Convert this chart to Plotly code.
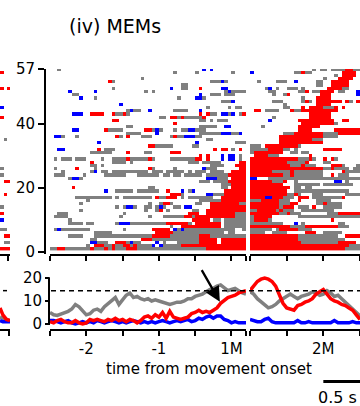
import numpy as np
import plotly.graph_objects as go

W, H = 360, 406
FONT = "DejaVu Sans"

# ---------------- raster data (rows 57 -> 1), bins of 50 ms ----------------
BIN = 0.05
SEG1_RANGE = (-2.5, 0.2)   # s, relative to 1st movement onset (1M)
SEG2_RANGE = (-1.0, 0.5)   # s, relative to 2nd movement onset (2M)
ROWS = list(range(57, 0, -1))

SEG1_ROWS = [
    "g2 b42 b44",
    "g34 g40 g50",
    "",
    "g25",
    "r16 g17 g44-46 b47 g48",
    "g36-37",
    "g17 b33 g36-37 r41 b47 b48",
    "b5 b12 g26 g28 g48-53 b49",
    "g6-7 b41 g44-46 g48-50",
    "b8 g12 g35 b40-41 g42",
    "g47-50 b50",
    "b19",
    "g43 g49 g51-52",
    "g21 b22 g23-24 b27 g34-36 g37 b41",
    "b6 b7-8 r11 r12-13 r14 r17 g18-19 r20 g21 r41 r43 g44-45 b47-48 g49 b50 g52 r53",
    "g30-31 g33 r33-34 g35 r36 g37-41 r42",
    "r17-18 g41-42 g44 g46-48",
    "r34",
    "g21-22 g41-45 b48-49",
    "b6 b7 r15 g16-19 r26-27 g28 b29 g30 g34 g36 g37 b38-39 g40-42",
    "g21-24 b29 g41-46 b47 b48-49 g50-51 b52",
    "g1-3 b1 b2 g7 r18 g19 r21 g25 g26-27 g33 r34 g35-36 b37 b38-39 g40-41",
    "g43-44",
    "b13 b40 g51-53",
    "r27-28 g29-33 g39-40",
    "b2-3 r13 g15-16 g17 r45 r47 r48 g50 r52",
    "g11-16 r21 g26-27 r33-35",
    "r41 r43 b47 b49 b50 g52",
    "g1 g3-5 g7-9 g14 g17-20 r21 g22-26 r27 g28 g33-39 r40-41 r43 b47 b49-50 g52",
    "r11 g17-20 g22 g38-40 g42-46 r52-53",
    "g11-12 g14 g44-47 r51-53",
    "g1 r7 g12 r27 g28 g34 b42 g43-45 r52-53",
    "g3 g11-12 b12 g14-15 g17-26 g28-30 g32-36 g38 g40-42 g44-47 r50-53",
    "g1-3 g9 g15-20 g24-29 g31-32 g34-35 g37-41 g43-48 r49-53",
    "g5 b6-7 g8 b43-45 g46-48 r50-53",
    "g41-43 g45-48 r49-53",
    "g47-49 b50 r50-53",
    "r6 g27-28 g47-48 r50-53",
    "b15 b18 g18-21 g22 g24-26 g27-28 g29 g32 r32 b36 g38 b39 r48-53",
    "r33-34 r35 g36 b43-44 g45-47 r48-53",
    "g7-13 g14-16 g18 g20 g21-24 g25-27 g29 r29 g30-31 r32-34 g36 g38-44 r47-53",
    "g10 g41-46 r47-53",
    "g8 g27 g30 r31-32 g33 g40-41 r44-51 g52-53",
    "g18 g20-21 b21-22 g23 g26-27 g29-30 b30 g31 g34-35 b37-38 r44-53",
    "g8 g26 g29 r30 r32 g32 g39-40 r43-53",
    "g2-4 g20 r38-40 r43-48 r49-50 g51-53",
    "g1-4 g19 g27 g31-36 r37-39 g39 r40-47 r48-50 g51-53",
    "g5 r39-43 g45-46 g48-53",
    "g5-8 g10-11 g18 b19-21 g22-26 g27-29 g30-31 r32-37 g38 r40-46 g48-53",
    "g33 r36-46 g48-53",
    "g1 b2 g3-8 g9-10 g20 r28-32 b34 g35 b36 g37-47 g48-50 g53",
    "g12-16 r29-33 g34-40 g41-47 g49-50",
    "g5-8 g12-14 g15-16 g17-27 r28-32 g33-40 r41-43 g44-53",
    "g11-12 r25-27 g28-40 r41-45 r47-53",
    "b11-12 g13-15 r18-20 g21-22 b22 g23-24 r29 b29 g31 g35-40 r41-45 r47-53",
    "g10 r12-15 g15-16 r17 g18-19 r20-22 g22-23 r23 g24-28 b28 b30-31 g31-35 r36-38 r39-53",
    "g0-1 r2-4 g4-10 r11-12 g12-14 r15 g16 r17-18 g18-20 r21-23 g24-42 r43-53",
]

SEG2_ROWS = [
    "g17 g19 g20 g22-25 r26-27 g28-29",
    "b0 g12-13 r14 g15-16 r25-28",
    "g23 r25-28",
    "g20 r24-27",
    "g2 g7-9 b12 g18-19 r22-26",
    "g18-19 r22-26",
    "g4 b5 g7 g10-12 g14 r21-24 g25-26",
    "g5-6 g13-15 r15 g17-18 r19-22 g24-25 b29",
    "g6 g9 r10 r19-21 b29",
    "g14 r18-21",
    "g6-7 g8 g14-16 r15 r18-24 r26 g27 r29",
    "g9 r18-21",
    "g9-10 r14 r16-19 g20-22 r23 r25",
    "r1 r2 g4-7 r11 g12-13 r14-15 r16-22 r23",
    "r16-21",
    "g6 r16-21",
    "b5 r13 r14-22 r25 r26",
    "r14-22 g23",
    "g3 r13-18",
    "r13-16 r23-29",
    "g9-11 r12-19 g20-23 r24-29",
    "r8-19 g20-23",
    "r8-16 g17-19",
    "r8-19",
    "g0-2 r4-12 g13",
    "g0-4 r5-8 g9-10 g12 r20-24",
    "g0 r1-8 g11-12 g14-15",
    "r1-4 g5-7 r16",
    "r0-12 g13-15 r16 g17 r20 r22 g23",
    "r0-9 g10-14 r15 g20-21",
    "r0-10 g11-13 r14 g15-17 r22-24 g25 g29",
    "r0-19 g20-21 r22 g23-26 g28-29",
    "r0-5 g6-10 r11 g12-19 r25 g26-29",
    "r0-8 g9-10 r11 g12-19 r22 g24-26",
    "b0-1 g5-19 g20-29",
    "r0-5 g6-8 r9 g12 b23-24 g26",
    "r0-8 g12-18 g20-27",
    "r0-10 g12-13 g15-16",
    "r0-9 g12-17 g18-22 g23-26",
    "r0-9 g10-13 r12 g17-19 g26-29",
    "r0-8 b4-5 g9-11 r13-15 g17-24 r25",
    "g0-2 r3-7 g8-10 r13 g18-21",
    "r0-7 g8-10 r11-12 g18-22 r20 g23-24",
    "r0-7 g8 r9-11 g13-15 r17 g20-24",
    "g0-1 r2-6 g7-11 r8 g14-18 g19-22",
    "r0-7 g8-13 r10 g21-23 r24-29",
    "g0-2 r1-5 g13-29",
    "g0-5 r1-4 r22",
    "g0-8 b12 g14 g24-25",
    "r0-6 r7-11 g11-14 r15-18 r19-24 g24-26",
    "g0-5 g7-10 r8-12 g13-16",
    "g0-3 g6-9 r15-17 g20-24",
    "r0-13 g13-23 r26-29",
    "r0-12 g13-25",
    "r0-13 g14-16 g17-24 r24-28",
    "r0-26 g27-29",
    "r0-25 g26-29",
]

# neighbouring panel (iii), only its right edge is visible
LEFT_ROWS = {56: "r0", 51: "r0 g2-3 r2", 45: "b0", 42: "r0", 35: "g1", 26: "g0", 24: "g0",
             22: "r1-2", 18: "r1", 14: "g0 b3", 12: "r0", 10: "b0", 7: "g0-1", 5: "r1-2",
             3: "g1-2", 1: "r0-3"}

# ---------------- population curves ----------------
T1 = [round(-2.5 + 0.05 * i, 2) for i in range(55)]
T2 = [round(-1.0 + 0.05 * i, 2) for i in range(31)]

GRAY1 = [5, 4, 3.7, 4.2, 5, 5.5, 6.5, 8.5, 7.5, 6, 4, 4.5, 6, 6.5, 5.5, 7.5, 9, 10.5, 11.5, 8.5,
         10.5, 12.5, 13.5, 11.5, 12, 11, 10.5, 11, 10, 10.5, 10, 9.5, 9, 8.5, 9, 9.5, 9.5, 10, 11,
         11, 12, 12.5, 13, 14, 15, 15.5, 16.5, 17, 15.5, 14.5, 15, 15.5, 14.5, 13.5, 13]
RED1 = [1, 0.5, 1.5, 2, 1, 0.5, 0.5, 1.5, 0.5, 0, 0.5, 2, 1.5, 2, 1.5, 1, 2, 1.5, 2.5, 1.5,
        2, 1, 2, 1.5, 0.5, 1.5, 3, 3.5, 2.5, 4, 3, 5, 2.5, 5.5, 3, 2.5, 2, 2.5, 3, 4.5,
        5, 6, 5, 5.5, 5, 6, 7, 9, 10.5, 11.5, 12, 12.5, 13.5, 14, 14.5]
BLUE1 = [1.5, 1.5, 1, 0.5, 1, 1.5, 0.5, 0, 0.5, 1, 0.5, 1, 0.5, 1.5, 1, 0.5, 1, 1.5, 1, 0.5,
         1, 0.5, 1, 1.5, 1, 0.5, 1, 0.5, 1, 0.5, 1, 1.5, 1, 0.5, 1, 1.5, 1, 1.5, 2, 1,
         1.5, 2.5, 2, 3, 3.5, 2.5, 3.5, 3.5, 2, 1.5, 0.5, 1, 0.5, 0.5, 0.5]

GRAY2 = [14, 13, 11, 9.5, 8, 7, 7.5, 8.5, 10, 11, 12, 13, 12, 11, 12, 12.5, 13, 14, 13.5, 12.5,
         13, 14.5, 13.5, 12, 12.5, 11, 9.5, 8, 6.5, 5, 3.5]
RED2 = [14.5, 16.5, 18.5, 19.5, 20, 19.5, 18.5, 16.5, 12.5, 9, 7, 6.5, 6, 8, 8.5, 9.5, 10, 11,
        13, 14, 15, 13, 11, 10, 9.5, 8.5, 8, 7, 6, 4, 2]
BLUE2 = [2, 1.5, 1, 1, 2, 2.5, 1, 0.5, 0.5, 0.5, 0.5, 0.5, 0.5, 1.5, 0.5, 0.5, 1, 0.5, 0.5, 0.5,
         0.5, 0.5, 0.5, 1.5, 0.5, 0.5, 0.5, 0.5, 1, 0.5, 0.5]

TL = [-0.14, -0.1, -0.05, 0.0]
LEFT_GRAY = [3, 2.5, 2, 1.5]
LEFT_RED = [7, 4, 2, 1.5]
LEFT_BLUE = [1.5, 1, 1, 1]

THRESHOLD = 14.5
SCALE_BAR = 0.5

CODE = {"g": 1, "r": 2, "b": 3}


def parse(spec, nbins):
    out = np.full(nbins, np.nan)
    for tok in spec.split():
        c = CODE[tok[0]]
        rng = tok[1:]
        if "-" in rng:
            a, b = map(int, rng.split("-"))
        else:
            a = b = int(rng)
        for k in range(max(a, 0), min(b, nbins - 1) + 1):
            out[k] = c
    return out


def grid(specs, nbins):
    z = np.full((57, nbins), np.nan)
    for row, spec in zip(ROWS, specs):
        z[row - 1] = parse(spec, nbins)
    return z


n1 = int(round((SEG1_RANGE[1] - SEG1_RANGE[0]) / BIN))
n2 = int(round((SEG2_RANGE[1] - SEG2_RANGE[0]) / BIN))
z1 = grid(SEG1_ROWS, n1)
z2 = grid(SEG2_ROWS, n2)
zl = np.full((57, 4), np.nan)
for row, spec in LEFT_ROWS.items():
    zl[row - 1] = parse(spec, 4)

x1 = [SEG1_RANGE[0] + BIN * (k + 0.5) for k in range(n1)]
x2 = [SEG2_RANGE[0] + BIN * (k + 0.5) for k in range(n2)]
xl = [-0.2 + BIN * (k + 0.5) for k in range(4)]
yrows = list(range(1, 58))

CS = [[0, "#808080"], [0.25, "#808080"], [0.25, "#ff0000"], [0.75, "#ff0000"],
      [0.75, "#0000ff"], [1, "#0000ff"]]


def X(px):
    return px / W


def Y(py):
    return 1 - py / H


fig = go.Figure()
for xx, zz, xa in [(x1, z1, "x"), (x2, z2, "x2"), (xl, zl, "x5")]:
    fig.add_trace(go.Heatmap(x=xx, y=yrows, z=zz, colorscale=CS, zmin=1, zmax=3,
                             showscale=False, hoverinfo="skip", xaxis=xa, yaxis="y"))

LW = 3.5
for t, g, r, b, xa in [(T1, GRAY1, RED1, BLUE1, "x3"), (T2, GRAY2, RED2, BLUE2, "x4"),
                       (TL, LEFT_GRAY, LEFT_RED, LEFT_BLUE, "x6")]:
    fig.add_trace(go.Scatter(x=t, y=g, mode="lines", line=dict(color="#808080", width=LW),
                             xaxis=xa, yaxis="y3", hoverinfo="skip"))
    fig.add_trace(go.Scatter(x=t, y=b, mode="lines", line=dict(color="#0000ff", width=LW),
                             xaxis=xa, yaxis="y3", hoverinfo="skip"))
    fig.add_trace(go.Scatter(x=t, y=r, mode="lines", line=dict(color="#ff0000", width=LW),
                             xaxis=xa, yaxis="y3", hoverinfo="skip"))

axcommon = dict(showgrid=False, zeroline=False, showline=True, linecolor="black", linewidth=2,
                ticks="outside", tickcolor="black", tickwidth=2, automargin=False,
                tickfont=dict(family=FONT, size=15, color="black"))

tv1 = [-2.5, -2, -1.5, -1, -0.5, 0, 0.2]
tv2 = [-1, -0.5, 0, 0.5]
y3lo = -(329 - 324) / 2.3
y3hi = (324 - 276) / 2.3

fig.update_layout(
    template="none",
    width=W, height=H, margin=dict(l=0, r=0, t=0, b=0, pad=0, autoexpand=False),
    paper_bgcolor="white", plot_bgcolor="rgba(0,0,0,0)", showlegend=False,
    font=dict(family=FONT, color="black"),
    xaxis=dict(axcommon, domain=[X(50), X(246)], range=list(SEG1_RANGE), anchor="y",
               tickvals=tv1, ticklen=5, showticklabels=False),
    xaxis2=dict(axcommon, domain=[X(250), X(360)], range=list(SEG2_RANGE), anchor="y",
                tickvals=tv2, ticklen=5, showticklabels=False),
    yaxis=dict(axcommon, domain=[Y(253.5), Y(69)], range=[-0.55, 57], anchor="free",
               position=X(45), tickvals=[0, 20, 40, 57], ticklen=6),
    xaxis3=dict(axcommon, domain=[X(50), X(246)], range=list(SEG1_RANGE), anchor="y3",
                tickvals=tv1, ticktext=["", "-2", "", "-1", "", "1M", ""], ticklen=5),
    xaxis4=dict(axcommon, domain=[X(250), X(360)], range=list(SEG2_RANGE), anchor="y3",
                tickvals=tv2, ticktext=["", "", "2M", ""], ticklen=5),
    yaxis3=dict(axcommon, domain=[Y(329), Y(276)], range=[y3lo, y3hi], anchor="free",
                position=X(49), tickvals=[0, 10, 20], ticklen=4, showline=False),
    xaxis5=dict(axcommon, domain=[0, X(10)], range=[-0.2, -0.06], anchor="y",
                tickvals=[-0.085], ticklen=5, showticklabels=False),
    xaxis6=dict(axcommon, domain=[0, X(10)], range=[-0.14, 0.0], anchor="y3",
                tickvals=[-0.015], ticklen=5, showticklabels=False),
)

shapes = [
    dict(type="line", xref="paper", yref="y3", x0=X(49), x1=X(49), y0=-0.4, y1=20.3,
         line=dict(color="black", width=2)),
    dict(type="line", xref="paper", yref="y3", x0=X(51), x1=X(360), y0=THRESHOLD, y1=THRESHOLD,
         line=dict(color="black", width=1.5, dash="5px,4px")),
    dict(type="line", xref="paper", yref="y3", x0=X(3), x1=X(7), y0=THRESHOLD, y1=THRESHOLD,
         line=dict(color="black", width=1.5)),
    dict(type="line", xref="x4", yref="paper", x0=0, x1=SCALE_BAR, y0=Y(381.5), y1=Y(381.5),
         line=dict(color="black", width=3)),
]
fig.update_layout(shapes=shapes)

fig.add_annotation(text="(iv) MEMs", xref="paper", yref="paper", x=X(114.5), y=Y(26),
                   showarrow=False, font=dict(family=FONT, size=19), xanchor="center",
                   yanchor="middle")
fig.add_annotation(text="time from movement onset", xref="paper", yref="paper", x=X(208.5),
                   y=Y(369), showarrow=False, font=dict(family=FONT, size=15),
                   xanchor="center", yanchor="middle")
fig.add_annotation(text="0.5 s", xref="paper", yref="paper", x=X(337), y=Y(397.5),
                   showarrow=False, font=dict(family=FONT, size=16), xanchor="center",
                   yanchor="middle", borderpad=0)
fig.add_annotation(text="", xref="x3", yref="y3", x=-0.16, y=9.7, ax=-19, ay=-33,
                   showarrow=True, arrowhead=2, arrowsize=1.3, arrowwidth=2.3,
                   arrowcolor="black", standoff=0)

fig.write_html("out.html", config={"displayModeBar": False},
               post_script="document.body.style.margin='0px';"
                           "document.documentElement.style.overflow='hidden';")
